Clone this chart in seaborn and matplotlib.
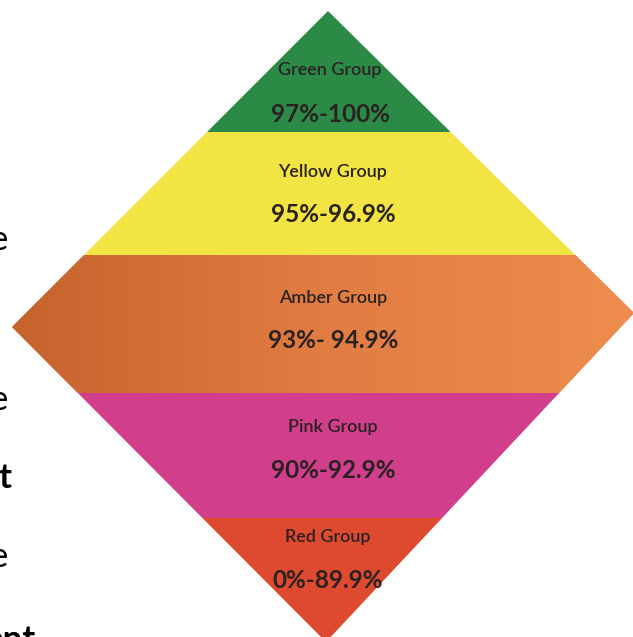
import matplotlib
matplotlib.use('Agg')
import matplotlib.pyplot as plt
import numpy as np
from matplotlib.colors import LinearSegmentedColormap
from matplotlib.patches import Polygon
import seaborn as sns

# band data, read from the poster (pixel rows, top -> bottom)
band_names = ['Green Group', 'Yellow Group', 'Amber Group', 'Pink Group', 'Red Group']
band_ranges = ['97%-100%', '95%-96.9%', '93%- 94.9%', '90%-92.9%', '0%-89.9%']
band_top = [0, 132, 255, 393, 518]
band_bottom = [132, 255, 393, 518, 645]
band_colors = ['#2c8a47', '#f2e443', '#e17c42', '#d03e8c', '#de4a2f']
name_y = [70, 172, 298, 427, 537]
range_y = [115, 215, 341, 470, 580]
text_x = [330, 333, 333, 333, 328]

# amber band is darker on the left side of the photo
amber_shade = ['#c6622e', '#e17c42', '#ee8d4e']

# page text cut off at the left edge
side_text = ['e', 'e', 't', 'e', 'ent']
side_bold = [False, False, True, False, True]
side_y = [240, 400, 478, 557, 640]
side_x = [8, 8, 11, 8, 36]

sns.set_theme(style='white')
plt.rcParams['font.family'] = ['Lato', 'DejaVu Sans']

W, H = 633, 637
fig = plt.figure(figsize=(W / 100, H / 100), dpi=100)
ax = fig.add_axes([0, 0, 1, 1])

diamond = Polygon([(328, 11), (634, 313), (326, 642), (12, 327)],
                  closed=True, transform=ax.transData, facecolor='none', edgecolor='none')
ax.add_patch(diamond)

heights = [b - t for t, b in zip(band_top, band_bottom)]
centers = [(t + b) / 2 for t, b in zip(band_top, band_bottom)]
bars = ax.barh(centers, [W] * len(centers), height=heights, left=0,
               color=band_colors, edgecolor='none')
for bar in bars:
    bar.set_clip_path(diamond)

# left-to-right shading across the amber band
cmap = LinearSegmentedColormap.from_list('amber', amber_shade)
grad = np.linspace(0, 1, 256)[None, :]
img = ax.imshow(grad, cmap=cmap, aspect='auto', interpolation='bilinear',
                extent=(12, W, band_bottom[2], band_top[2]), zorder=2)
img.set_clip_path(diamond)

ax.set_xlim(0, W)
ax.set_ylim(H, 0)
ax.axis('off')

for i in range(len(band_names)):
    ax.text(text_x[i], name_y[i], band_names[i], ha='center', va='center',
            fontsize=13, color='#2a2222', fontweight='semibold', zorder=3)
    ax.text(text_x[i], range_y[i], band_ranges[i], ha='center', va='center',
            fontsize=17.5, color='#2a2222', fontweight='bold', zorder=3)

for s, b, x, y in zip(side_text, side_bold, side_x, side_y):
    ax.text(x, y, s, ha='right', va='center', fontsize=25, color='black',
            fontweight='bold' if b else 'normal')

fig.savefig('out.png', dpi=100)
